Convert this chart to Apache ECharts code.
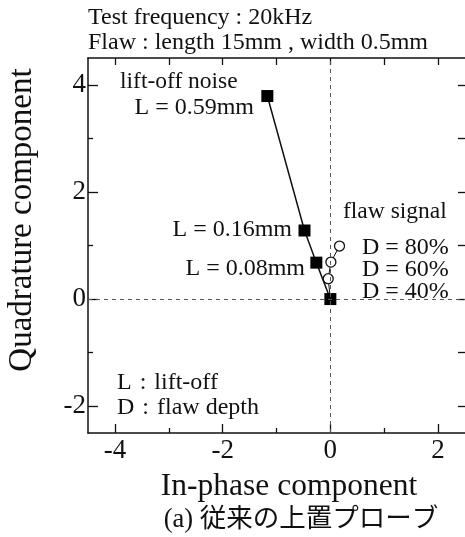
<!DOCTYPE html>
<html>
<head>
<meta charset="utf-8">
<script src="https://cdn.jsdelivr.net/npm/echarts@6/dist/echarts.min.js"></script>
<style>
  html, body { margin: 0; padding: 0; background: #fff; }
  #chart { width: 465px; height: 537px; }
</style>
</head>
<body>
<div id="chart"></div>
<script>
// lift-off noise (squares), origin first
var liftOffIn = [0, -0.26, -0.48, -1.17];
var liftOffQuad = [0, 0.68, 1.28, 3.79];
var liftOffNames = ['', 'L = 0.08mm', 'L = 0.16mm', 'L = 0.59mm'];
// flaw signal (open circles), origin first
var flawIn = [0, -0.04, 0.01, 0.17];
var flawQuad = [0, 0.38, 0.69, 0.99];
var depthNames = ['D = 40%', 'D = 60%', 'D = 80%'];

var xLabels = [-4, -2, 0, 2];
var xMinor = [-3, -1, 1];
var xAll = [-4, -3, -2, -1, 0, 1, 2];
var yLabels = [-2, 0, 2, 4];
var yMinor = [-1, 1, 3];
var yAll = [-2, -1, 0, 1, 2, 3, 4];

var FONT = "'Liberation Serif', 'Noto Sans CJK JP', serif";

function pairs(xs, ys) {
  return xs.map(function (x, i) { return [x, ys[i]]; });
}

var axisLine = { show: true, onZero: false, lineStyle: { color: '#111', width: 1.5 } };
var noLine = { show: false, onZero: false };

function xAx(pos, ticks, len, labels, line) {
  return {
    type: 'value', position: pos, min: -4.5, max: 2.5,
    axisLine: line,
    axisTick: { show: true, inside: true, length: len, customValues: ticks, lineStyle: { color: '#111', width: 1.3 } },
    axisLabel: labels ? { show: true, customValues: labels, fontFamily: FONT, fontSize: 27, color: '#111', margin: 4 } : { show: false },
    splitLine: { show: false }
  };
}
function yAx(pos, ticks, len, labels, line) {
  return {
    type: 'value', position: pos, min: -2.5, max: 4.5,
    axisLine: line,
    axisTick: { show: true, inside: true, length: len, customValues: ticks, lineStyle: { color: '#111', width: 1.3 } },
    axisLabel: labels ? { show: true, customValues: labels, fontFamily: FONT, fontSize: 27, color: '#111', margin: 2 } : { show: false },
    splitLine: { show: false }
  };
}

var chart = echarts.init(document.getElementById('chart'));

var liftData = pairs(liftOffIn, liftOffQuad);
var flawData = pairs(flawIn, flawQuad).map(function (p, i) {
  return i === 0 ? { value: p, symbol: 'none' } : p;
});

function txt(x, y, s, size, align) {
  return {
    type: 'text', x: x, y: y, silent: true,
    style: { text: s, fontFamily: FONT, fontSize: size || 24, fill: '#111', align: align || 'left', verticalAlign: 'middle' }
  };
}

var graphics = [
  txt(88, 18, 'Test frequency : 20kHz', 24),
  txt(88, 43, 'Flaw : length 15mm , width 0.5mm', 24),
  txt(120, 82, 'lift-off noise', 23.5),
  txt(254, 108, liftOffNames[3], 24, 'right'),
  txt(292, 230, liftOffNames[2], 24, 'right'),
  txt(305, 269, liftOffNames[1], 24, 'right'),
  txt(343, 212, 'flaw signal', 23.5),
  txt(362, 248, depthNames[2], 24),
  txt(362, 270, depthNames[1], 24),
  txt(362, 292, depthNames[0], 24),
  txt(117, 383, 'L\u2004:\u2004lift-off', 24),
  txt(117, 408, 'D\u2004:\u2004flaw depth', 24),
  txt(289, 487, 'In-phase component', 31.5, 'center'),
  txt(301, 520, '(a) 従来の上置プローブ', 26.5, 'center'),
  {
    type: 'text', x: 22, y: 220, rotation: Math.PI / 2, silent: true,
    style: { text: 'Quadrature component', fontFamily: FONT, fontSize: 33, fill: '#111', align: 'center', verticalAlign: 'middle' }
  }
];

chart.setOption({
  backgroundColor: '#fff',
  animation: false,
  grid: { left: 88, top: 58, right: -2, bottom: 104 },
  xAxis: [
    xAx('bottom', xLabels, 9, xLabels, axisLine),
    xAx('bottom', xMinor, 5, null, noLine),
    xAx('top', xAll, 7, null, axisLine)
  ],
  yAxis: [
    yAx('left', yLabels, 10, yLabels, axisLine),
    yAx('left', yMinor, 5, null, noLine),
    yAx('right', yAll, 7, null, noLine)
  ],
  graphic: graphics,
  series: [
    {
      type: 'line',
      name: 'flaw signal',
      data: flawData,
      symbol: 'circle',
      symbolSize: 10,
      itemStyle: { color: '#fff', borderColor: '#111', borderWidth: 1.3 },
      lineStyle: { color: '#111', width: 1 },
      z: 3,
      markLine: {
        silent: true,
        symbol: 'none',
        label: { show: false },
        lineStyle: { color: '#555', width: 1, type: [4, 4] },
        data: [{ xAxis: 0 }, { yAxis: 0 }]
      }
    },
    {
      type: 'line',
      name: 'lift-off noise',
      data: liftData,
      symbol: 'rect',
      symbolSize: 12,
      itemStyle: { color: '#000' },
      lineStyle: { color: '#111', width: 1.5 },
      z: 4
    }
  ]
});
</script>
</body>
</html>
